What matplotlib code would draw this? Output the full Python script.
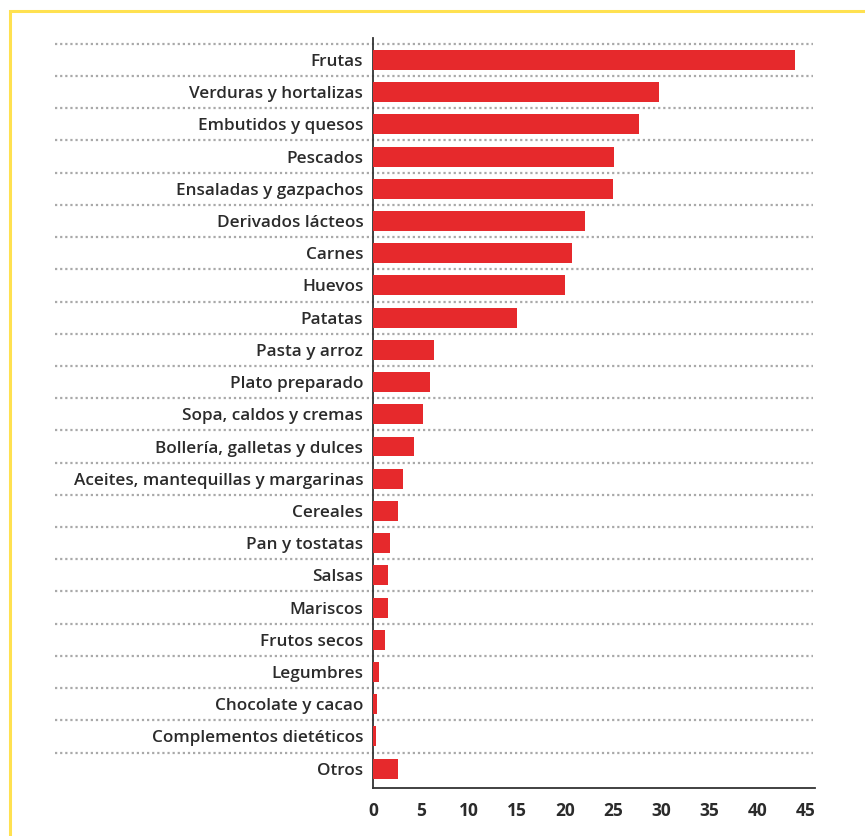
import matplotlib.pyplot as plt
from matplotlib.patches import Rectangle

categorias = [
    "Frutas", "Verduras y hortalizas", "Embutidos y quesos", "Pescados",
    "Ensaladas y gazpachos", "Derivados lácteos", "Carnes", "Huevos",
    "Patatas", "Pasta y arroz", "Plato preparado", "Sopa, caldos y cremas",
    "Bollería, galletas y dulces", "Aceites, mantequillas y margarinas",
    "Cereales", "Pan y tostatas", "Salsas", "Mariscos", "Frutos secos",
    "Legumbres", "Chocolate y cacao", "Complementos dietéticos", "Otros",
]
valores = [
    43.9, 29.8, 27.7, 25.1, 25.0, 22.1, 20.7, 20.0, 15.0, 6.4, 5.9, 5.2,
    4.3, 3.1, 2.6, 1.8, 1.6, 1.6, 1.3, 0.6, 0.4, 0.3, 2.6,
]
ticks_x = [0, 5, 10, 15, 20, 25, 30, 35, 40, 45]

rojo = "#e6292c"
texto = "#2b2b2b"

fig = plt.figure(figsize=(8.65, 8.36), dpi=100)

# marco amarillo (solo se ven los lados izquierdo y superior)
fig.patches.append(Rectangle((9.5 / 865, -0.1), 1.2, 1 - 11 / 836 + 0.1,
                             transform=fig.transFigure, fill=False,
                             edgecolor="#ffe150", linewidth=2.2))

ax = fig.add_axes([373 / 865, 48 / 836, 442 / 865, 750 / 836])

y = list(range(len(categorias)))
ax.barh(y, valores, height=0.62, color=rojo, zorder=3)

ax.set_xlim(0, 46)
ax.set_ylim(22.6, -0.68)
ax.set_yticks(y)
ax.set_yticklabels(categorias)
ax.set_xticks(ticks_x)
ax.set_xticklabels([str(t) for t in ticks_x])

for lab in ax.get_yticklabels():
    lab.set_fontfamily("Open Sans")
    lab.set_fontweight("semibold")
    lab.set_fontsize(12.3)
    lab.set_color(texto)
for lab in ax.get_xticklabels():
    lab.set_fontfamily("Open Sans")
    lab.set_fontweight("bold")
    lab.set_fontsize(12.5)
    lab.set_color(texto)
ax.tick_params(axis="y", length=0, pad=7)
ax.tick_params(axis="x", length=0, pad=10)

for s in ["top", "right"]:
    ax.spines[s].set_visible(False)
for s in ["left", "bottom"]:
    ax.spines[s].set_color("#333333")
    ax.spines[s].set_linewidth(1.3)

# separadores punteados entre filas, se extienden bajo las etiquetas
tr = ax.get_yaxis_transform()
for k in range(len(categorias)):
    ax.plot([-0.72, 0.995], [k - 0.5, k - 0.5], transform=tr, clip_on=False,
            color="#a9a9a9", linewidth=1.6, linestyle=(0, (1.0, 1.3)),
            zorder=1)

fig.savefig("out.png", dpi=100)
